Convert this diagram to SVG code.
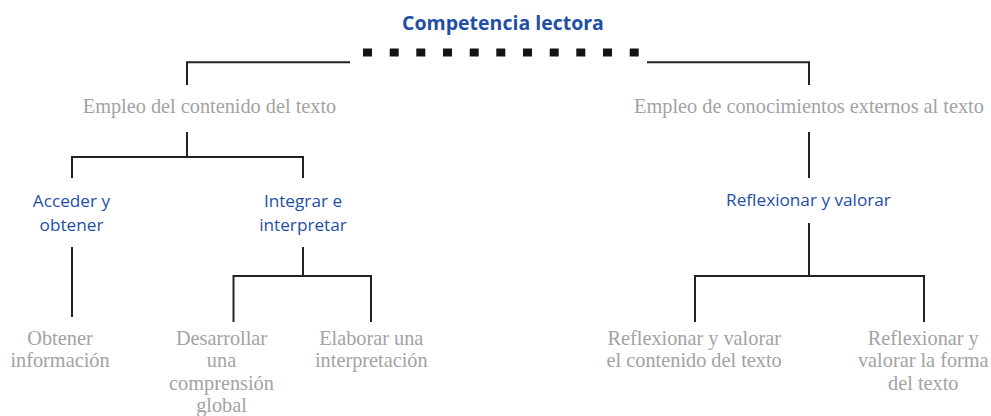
<svg xmlns="http://www.w3.org/2000/svg" width="991" height="416" viewBox="0 0 991 416">
<style>
.blue{font-family:"Open Sans","Liberation Sans",sans-serif;font-size:17.2px;fill:#1f4fa6;text-anchor:middle}
.title{font-family:"Open Sans","Liberation Sans",sans-serif;font-size:19.5px;font-weight:bold;fill:#1f4fa6;text-anchor:middle}
.gray{font-family:"Liberation Serif","Times New Roman",serif;font-size:20.3px;fill:#a3a3a3;text-anchor:middle}
.ln{fill:none;stroke:#222;stroke-width:2}
</style>
<rect width="991" height="416" fill="#fff"/>
<g id="connectors">
<g fill="#141414">
<rect x="363" y="48.5" width="9" height="8"/>
<rect x="389.7" y="48.5" width="9" height="8"/>
<rect x="416.3" y="48.5" width="9" height="8"/>
<rect x="443" y="48.5" width="9" height="8"/>
<rect x="469.7" y="48.5" width="9" height="8"/>
<rect x="496.3" y="48.5" width="9" height="8"/>
<rect x="523" y="48.5" width="9" height="8"/>
<rect x="549.7" y="48.5" width="9" height="8"/>
<rect x="576.3" y="48.5" width="9" height="8"/>
<rect x="603" y="48.5" width="9" height="8"/>
<rect x="629.7" y="48.5" width="9" height="8"/>
</g>
<path class="ln" d="M350 62.3H187V85"/>
<path class="ln" d="M647 62.3H809V85"/>
<path class="ln" d="M187 132V157M72 178V157H303V178"/>
<path class="ln" d="M809 132V178"/>
<path class="ln" d="M72 247V317"/>
<path class="ln" d="M303 247V276M233.5 322V276H371V322"/>
<path class="ln" d="M809 223V276M695 322V276H924V322"/>
</g>
<g id="competencia"><text class="title" x="503" y="30">Competencia lectora</text></g>
<g id="empleo-contenido"><text class="gray" x="209.5" y="113">Empleo del contenido del texto</text></g>
<g id="empleo-externos"><text class="gray" x="809" y="113">Empleo de conocimientos externos al texto</text></g>
<g id="acceder"><text class="blue" x="71.5" y="206.5">Acceder y</text><text class="blue" x="71.5" y="230.5">obtener</text></g>
<g id="integrar"><text class="blue" x="303" y="206.5">Integrar e</text><text class="blue" x="303" y="230.5">interpretar</text></g>
<g id="reflexionar"><text class="blue" x="808.5" y="205.5">Reflexionar y valorar</text></g>
<g id="obtener"><text class="gray" x="60" y="345">Obtener</text><text class="gray" x="60" y="366.7">información</text></g>
<g id="desarrollar"><text class="gray" x="221.5" y="345">Desarrollar</text><text class="gray" x="221.5" y="366.7">una</text><text class="gray" x="221.5" y="390">comprensión</text><text class="gray" x="221.5" y="411.7">global</text></g>
<g id="elaborar"><text class="gray" x="371.3" y="345">Elaborar una</text><text class="gray" x="371.3" y="366.7">interpretación</text></g>
<g id="reflex-contenido"><text class="gray" x="694.2" y="345">Reflexionar y valorar</text><text class="gray" x="694.2" y="366.7">el contenido del texto</text></g>
<g id="reflex-forma"><text class="gray" x="923.3" y="345">Reflexionar y</text><text class="gray" x="923.3" y="366.7">valorar la forma</text><text class="gray" x="923.3" y="390">del texto</text></g>
</svg>
